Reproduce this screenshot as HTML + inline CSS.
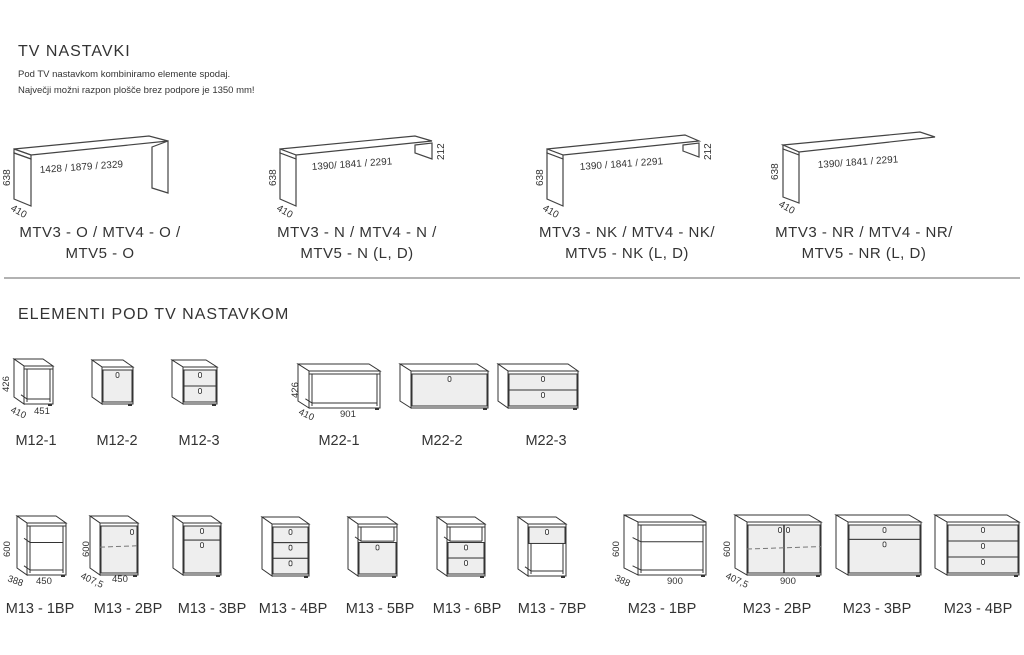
<!DOCTYPE html>
<html><head><meta charset="utf-8"><style>
html,body{margin:0;padding:0;background:#fff;}
svg{display:block;font-family:"Liberation Sans",sans-serif;}
.t{fill:#333;}
</style></head><body>
<svg id="s" width="1024" height="655" viewBox="0 0 1024 655" xmlns="http://www.w3.org/2000/svg">
<text x="18" y="56" font-size="16" class="t" letter-spacing="1">TV NASTAVKI</text>
<text x="18" y="77" font-size="9.5" class="t">Pod TV nastavkom kombiniramo elemente spodaj.</text>
<text x="18" y="93" font-size="9.5" class="t">Največji možni razpon plošče brez podpore je 1350 mm!</text>
<line x1="4" y1="278" x2="1020" y2="278" stroke="#666" stroke-width="1"/>
<text x="18" y="319" font-size="16" class="t" letter-spacing="1">ELEMENTI POD TV NASTAVKOM</text>

<g stroke="#444" stroke-width="1.2" fill="#fff">
<!-- table 1 -->
<polygon points="14,149 149,136 168,141 31,155"/>
<polygon points="14,149 31,155 31,159 14,153"/>
<polygon points="14,153 31,159 31,206 14,199"/>
<polygon points="152,147 168,141 168,193 152,188"/>
<!-- table 2 -->
<polygon points="280,149 415,136 432,141 296,155"/>
<polygon points="280,149 296,155 296,159 280,153"/>
<polygon points="280,153 296,159 296,206 280,199"/>
<polygon points="415,145 432,143 432,159 415,153"/>
<!-- table 3 -->
<polygon points="547,149 685,135 699,141 563,155"/>
<polygon points="547,149 563,155 563,159 547,153"/>
<polygon points="547,153 563,159 563,206 547,199"/>
<polygon points="683,145 699,143 699,157 683,151"/>
<!-- table 4 -->
<polygon points="783,145 920,132 935,137 799,152"/>
<polygon points="783,145 799,152 799,155 783,149"/>
<polygon points="783,149 799,155 799,203 783,197"/>
</g>
<g class="t" font-size="10">
<text x="40" y="173" transform="rotate(-4 40 173)">1428 / 1879 / 2329</text>
<text x="312" y="170" transform="rotate(-4 312 170)">1390/ 1841 / 2291</text>
<text x="580" y="170" transform="rotate(-4 580 170)">1390 / 1841 / 2291</text>
<text x="818" y="168" transform="rotate(-4 818 168)">1390/ 1841 / 2291</text>
<text x="10" y="186" transform="rotate(-90 10 186)">638</text>
<text x="276" y="186" transform="rotate(-90 276 186)">638</text>
<text x="543" y="186" transform="rotate(-90 543 186)">638</text>
<text x="778" y="180" transform="rotate(-90 778 180)">638</text>
<text x="444" y="160" transform="rotate(-90 444 160)">212</text>
<text x="711" y="160" transform="rotate(-90 711 160)">212</text>
<text x="10" y="210" transform="rotate(30 10 210)">410</text>
<text x="276" y="210" transform="rotate(30 276 210)">410</text>
<text x="542" y="210" transform="rotate(30 542 210)">410</text>
<text x="778" y="206" transform="rotate(30 778 206)">410</text>
</g>
<g class="t" font-size="15" text-anchor="middle" letter-spacing="0.5">
<text x="100" y="237">MTV3 - O / MTV4 - O /</text>
<text x="100" y="258">MTV5 - O</text>
<text x="357" y="237">MTV3 - N / MTV4 - N /</text>
<text x="357" y="258">MTV5 - N (L, D)</text>
<text x="627" y="237">MTV3 - NK / MTV4 - NK/</text>
<text x="627" y="258">MTV5 - NK (L, D)</text>
<text x="864" y="237">MTV3 - NR / MTV4 - NR/</text>
<text x="864" y="258">MTV5 - NR (L, D)</text>
</g>
<g id="cab" stroke="#333" stroke-width="1" fill="#fff"></g>
<g class="t" font-size="9.5">
<text x="9" y="392" transform="rotate(-90 9 392)">426</text>
<text x="10" y="412" transform="rotate(25 10 412)">410</text><text x="34" y="414">451</text>
<text x="298" y="398" transform="rotate(-90 298 398)">426</text>
<text x="298" y="414" transform="rotate(25 298 414)">410</text><text x="340" y="417">901</text>
<text x="10" y="557" transform="rotate(-90 10 557)">600</text>
<text x="7" y="581" transform="rotate(20 7 581)">388</text><text x="36" y="584">450</text>
<text x="89" y="557" transform="rotate(-90 89 557)">600</text>
<text x="80" y="578" transform="rotate(25 80 578)">407,5</text><text x="112" y="582">450</text>
<text x="619" y="557" transform="rotate(-90 619 557)">600</text>
<text x="614" y="580" transform="rotate(25 614 580)">388</text><text x="667" y="584">900</text>
<text x="730" y="557" transform="rotate(-90 730 557)">600</text>
<text x="725" y="578" transform="rotate(25 725 578)">407,5</text><text x="780" y="584">900</text>
</g>
<g class="t" font-size="14.5" text-anchor="middle">
<text x="36" y="445">M12-1</text><text x="117" y="445">M12-2</text><text x="199" y="445">M12-3</text>
<text x="339" y="445">M22-1</text><text x="442" y="445">M22-2</text><text x="546" y="445">M22-3</text>
<text x="40" y="613">M13 - 1BP</text><text x="128" y="613">M13 - 2BP</text><text x="212" y="613">M13 - 3BP</text>
<text x="293" y="613">M13 - 4BP</text><text x="380" y="613">M13 - 5BP</text><text x="467" y="613">M13 - 6BP</text>
<text x="552" y="613">M13 - 7BP</text><text x="662" y="613">M23 - 1BP</text><text x="777" y="613">M23 - 2BP</text>
<text x="877" y="613">M23 - 3BP</text><text x="978" y="613">M23 - 4BP</text>
</g>
</svg>
<script>
(function(){
var g=document.getElementById('cab'),NS='http://www.w3.org/2000/svg';
function el(t,a){var e=document.createElementNS(NS,t);for(var k in a)e.setAttribute(k,a[k]);g.appendChild(e);return e;}
function knob(cx,cy){el('rect',{x:cx-1.5,y:cy-2.5,width:3,height:5,rx:1.5,fill:'#fff','stroke-width':0.8});}
// x,y = front-left-top; w,h; s side width; type
function cab(X,Y,W,H,s,type){
 var d=7, x=X+s, w=W-s, y=Y+d, h=H-d;
 el('polygon',{points:[x,y,x+w,y,x+w-s,y-d,x-s,y-d].join(' ')});
 el('polygon',{points:[x-s,y-d,x,y,x,y+h,x-s,y+h-d].join(' ')});
 el('rect',{x:x,y:y,width:w,height:h});
 el('line',{x1:x,y1:y+3,x2:x+w,y2:y+3});
 var t=y+3,b=y+h-2,ih=b-t;
 function dr(a,bb,k){el('rect',{x:x+1,y:a,width:w-2,height:bb-a,fill:'#eee'});if(k)knob(x+w/2,a+5);}
 function shelf(yy){el('line',{x1:x+3,y1:yy,x2:x+w-3,y2:yy});el('line',{x1:x+3,y1:yy,x2:x+3-s*0.6,y2:yy-d*0.6});}
 function open(a,bb){el('line',{x1:x+3,y1:a,x2:x+3,y2:bb});el('line',{x1:x+w-3,y1:a,x2:x+w-3,y2:bb});}
 switch(type){
  case 'open': open(t,b);shelf(b-3);break;
  case 'door': dr(t,b,1);break;
  case 'dr2': dr(t,t+ih/2,1);dr(t+ih/2,b,1);break;
  case 'dr3': dr(t,t+ih/3,1);dr(t+ih/3,t+2*ih/3,1);dr(t+2*ih/3,b,1);break;
  case 'shelf': open(t,b);shelf(t+ih*0.35);shelf(b-3);break;
  case 'door2bp': dr(t,b,0);knob(x+w-6,t+6);el('line',{x1:x,y1:t+ih*0.45,x2:x+w,y2:t+ih*0.42,'stroke-dasharray':'5,3',stroke:'#777'});break;
  case 'dr1big': dr(t,t+ih*0.3,1);dr(t+ih*0.3,b,1);break;
  case 'openDoor': open(t,t+ih*0.3);shelf(t+ih*0.3);dr(t+ih*0.33,b,1);break;
  case 'open2dr': open(t,t+ih*0.3);shelf(t+ih*0.3);dr(t+ih*0.33,t+ih*0.66,1);dr(t+ih*0.66,b,1);break;
  case 'drOpen': dr(t,t+ih*0.35,1);open(t+ih*0.35,b);shelf(b-3);break;
  case 'dbl': dr(t,b,0);el('line',{x1:x+w/2,y1:t,x2:x+w/2,y2:b,'stroke-width':1.5});knob(x+w/2-4,t+5);knob(x+w/2+4,t+5);
    el('line',{x1:x,y1:t+ih*0.5,x2:x+w,y2:t+ih*0.45,'stroke-dasharray':'5,3',stroke:'#777'});break;
 }
 el('line',{x1:x+w-5,y1:y+h+1,x2:x+w-1,y2:y+h+1,'stroke-width':2});
}
cab(14,359,39,45,10,'open');
cab(92,360,41,44,10,'door');
cab(172,360,45,44,11,'dr2');
cab(298,364,82,44,11,'open');
cab(400,364,88,44,11,'door');
cab(498,364,80,44,10,'dr2');
cab(17,516,49,59,10,'shelf');
cab(90,516,48,59,10,'door2bp');
cab(173,516,48,59,10,'dr1big');
cab(262,517,47,59,10,'dr3');
cab(348,517,49,59,10,'openDoor');
cab(437,517,48,59,10,'open2dr');
cab(518,517,48,59,10,'drOpen');
cab(624,515,82,60,14,'shelf');
cab(735,515,86,60,12,'dbl');
cab(836,515,85,60,12,'dr1big');
cab(935,515,84,60,12,'dr3');
})();
</script>
</body></html>
